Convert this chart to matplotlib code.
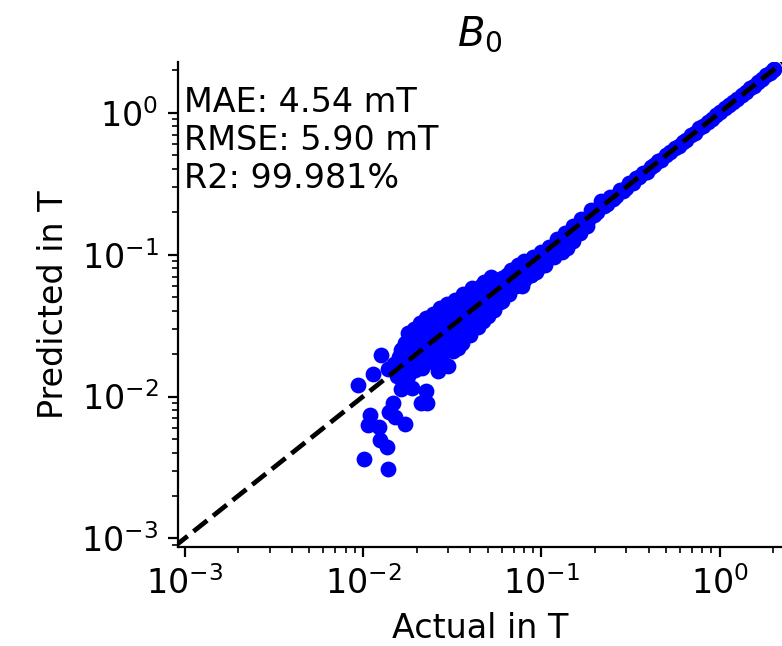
import numpy as np
import matplotlib.pyplot as plt

# values (Tesla)
# scattered low-field points
low_actual = [0.0094, 0.0127, 0.0114, 0.0109, 0.0107, 0.0123, 0.0124, 0.0136,
              0.0101, 0.0138, 0.0148, 0.0140, 0.0152, 0.0172, 0.0211, 0.0229,
              0.0226, 0.0189, 0.0163, 0.0263, 0.0300, 0.0276, 0.0139, 0.0163]
low_predicted = [0.0120, 0.0195, 0.0145, 0.0074, 0.0063, 0.0061, 0.0049, 0.0044,
                 0.0036, 0.0031, 0.0090, 0.0078, 0.0072, 0.0064, 0.0090, 0.0090,
                 0.0109, 0.0115, 0.0113, 0.0152, 0.0165, 0.0179, 0.0156, 0.0212]

# dense cluster
mid_actual = [0.0150, 0.0155, 0.0160, 0.0162, 0.0165, 0.0168, 0.0170, 0.0172,
              0.0175, 0.0178, 0.0180, 0.0183, 0.0186, 0.0190, 0.0193, 0.0196,
              0.0200, 0.0203, 0.0206, 0.0210, 0.0213, 0.0216, 0.0220, 0.0223,
              0.0226, 0.0230, 0.0234, 0.0238, 0.0242, 0.0246, 0.0250, 0.0255,
              0.0260, 0.0265, 0.0270, 0.0275, 0.0280, 0.0285, 0.0290, 0.0296,
              0.0302, 0.0308, 0.0314, 0.0320, 0.0327, 0.0334, 0.0341, 0.0348,
              0.0355, 0.0363, 0.0371, 0.0380, 0.0389, 0.0398, 0.0407, 0.0417,
              0.0427, 0.0437, 0.0448, 0.0460, 0.0472, 0.0485, 0.0498, 0.0512,
              0.0526, 0.0540, 0.0555, 0.0570, 0.0585, 0.0600, 0.0480, 0.0520,
              0.0320, 0.0340, 0.0360, 0.0400, 0.0440, 0.0470, 0.0500, 0.0540]
mid_predicted = [0.0170, 0.0140, 0.0190, 0.0150, 0.0215, 0.0130, 0.0175, 0.0240,
                 0.0160, 0.0280, 0.0140, 0.0200, 0.0250, 0.0170, 0.0300, 0.0155,
                 0.0220, 0.0270, 0.0190, 0.0330, 0.0160, 0.0240, 0.0290, 0.0200,
                 0.0360, 0.0175, 0.0260, 0.0310, 0.0215, 0.0380, 0.0190, 0.0280,
                 0.0340, 0.0235, 0.0420, 0.0210, 0.0300, 0.0360, 0.0255, 0.0450,
                 0.0235, 0.0320, 0.0390, 0.0275, 0.0480, 0.0260, 0.0350, 0.0420,
                 0.0300, 0.0530, 0.0290, 0.0380, 0.0450, 0.0330, 0.0580, 0.0320,
                 0.0410, 0.0490, 0.0370, 0.0600, 0.0360, 0.0450, 0.0530, 0.0410,
                 0.0650, 0.0420, 0.0500, 0.0580, 0.0460, 0.0680, 0.0640, 0.0700,
                 0.0210, 0.0220, 0.0240, 0.0270, 0.0310, 0.0340, 0.0370, 0.0410]

# narrowing band
high_actual = [0.062, 0.064, 0.066, 0.068, 0.070, 0.072, 0.074, 0.076, 0.078,
               0.080, 0.082, 0.085, 0.088, 0.090, 0.093, 0.096, 0.100, 0.103,
               0.106, 0.110, 0.114, 0.118, 0.122, 0.126, 0.130, 0.135, 0.140,
               0.145, 0.150, 0.156, 0.162, 0.168, 0.175, 0.182, 0.190, 0.198,
               0.206, 0.215, 0.224, 0.233, 0.243, 0.253, 0.264, 0.275, 0.287,
               0.300, 0.060, 0.066, 0.072, 0.080, 0.088, 0.094, 0.105, 0.118,
               0.130, 0.139, 0.150, 0.165, 0.180]
high_predicted = [0.058, 0.072, 0.055, 0.078, 0.062, 0.066, 0.085, 0.068, 0.060,
                  0.090, 0.074, 0.078, 0.072, 0.096, 0.085, 0.080, 0.104, 0.092,
                  0.098, 0.114, 0.104, 0.110, 0.128, 0.115, 0.124, 0.142, 0.130,
                  0.138, 0.160, 0.148, 0.155, 0.178, 0.168, 0.175, 0.205, 0.190,
                  0.200, 0.238, 0.220, 0.228, 0.255, 0.245, 0.258, 0.285, 0.280,
                  0.295, 0.047, 0.053, 0.060, 0.066, 0.072, 0.076, 0.085, 0.096,
                  0.105, 0.112, 0.125, 0.142, 0.160]

# tight top range
top_actual = [0.31, 0.325, 0.34, 0.355, 0.37, 0.39, 0.41, 0.43, 0.45, 0.47,
              0.50, 0.53, 0.56, 0.59, 0.62, 0.65, 0.69, 0.73, 0.77, 0.81,
              0.86, 0.91, 0.96, 1.01, 1.07, 1.13, 1.19, 1.26, 1.33, 1.40,
              1.48, 1.56, 1.65, 1.74, 1.83, 1.92, 2.00, 2.02]
top_predicted = [0.318, 0.322, 0.345, 0.352, 0.378, 0.385, 0.415, 0.428, 0.458, 0.466,
                 0.505, 0.525, 0.568, 0.585, 0.625, 0.645, 0.695, 0.725, 0.778, 0.805,
                 0.865, 0.905, 0.965, 1.005, 1.075, 1.125, 1.195, 1.255, 1.335, 1.395,
                 1.485, 1.555, 1.655, 1.735, 1.835, 1.915, 2.005, 2.02]

metrics = ["MAE: 4.54 mT", "RMSE: 5.90 mT", "R2: 99.981%"]

actual = np.concatenate([low_actual, mid_actual, high_actual, top_actual])
predicted = np.concatenate([low_predicted, mid_predicted, high_predicted, top_predicted])

plt.rcParams["font.size"] = 12

fig = plt.figure(figsize=(3.91, 3.23), dpi=200)
ax = fig.add_axes([0.2276, 0.1533, 0.7724, 0.7512])

ax.scatter(actual, predicted, s=22, color="blue", zorder=2)
lims = [0.00087, 2.29]
ax.plot(lims, lims, "k--", lw=1.7, zorder=3)
ax.set_xscale("log")
ax.set_yscale("log")
ax.set_xlim(0.000917, 2.24)
ax.set_ylim(0.00087, 2.29)

ax.spines["top"].set_visible(False)
ax.spines["right"].set_visible(False)

ax.text(0.01, 0.95, "\n".join(metrics), transform=ax.transAxes, va="top", ha="left")
ax.set_title("$B_0$")
ax.set_xlabel("Actual in T")
ax.set_ylabel("Predicted in T")

fig.savefig("out.png", dpi=200)
